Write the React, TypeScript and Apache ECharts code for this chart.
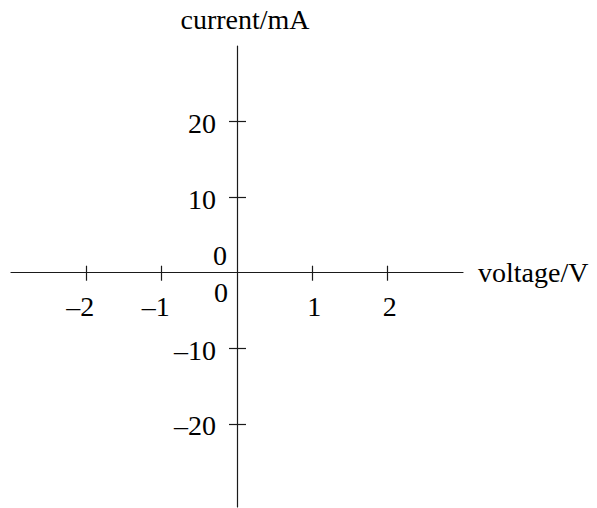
import React, { useEffect, useRef } from "react";
import * as echarts from "echarts";

const X_RANGE = [-3, 3];
const Y_RANGE = [-31, 30];
const X_TICKS = [-2, -1, 1, 2];
const X_LABELS = [-2, -1, 0, 1, 2];
const Y_TICKS = [-20, -10, 10, 20];
const Y_LABELS = [-20, -10, 0, 10, 20];
const X_NAME = "voltage/V";
const Y_NAME = "current/mA";

const FONT = "'Liberation Serif', 'Times New Roman', serif";
const FS = 28;
const LINE = { color: "#1a1a1a", width: 1.2 };

const fmt = (v: number) => (v < 0 ? "\u2013" + Math.abs(v) : String(v));

// plot frame (pixels) and origin
const L = 11, R = 463, T = 46, B = 507;
const OX = L + ((0 - X_RANGE[0]) / (X_RANGE[1] - X_RANGE[0])) * (R - L);
const OY = T + ((Y_RANGE[1] - 0) / (Y_RANGE[1] - Y_RANGE[0])) * (B - T);
const W = 597, H = 508;

const hiddenX = (gi: number) => ({ type: "value", gridIndex: gi, min: X_RANGE[0], max: X_RANGE[1], show: false });
const hiddenY = (gi: number) => ({ type: "value", gridIndex: gi, min: Y_RANGE[0], max: Y_RANGE[1], show: false });

export default function App() {
  const ref = useRef<HTMLDivElement>(null);
  useEffect(() => {
    if (!ref.current) return;
    const chart = echarts.init(ref.current, undefined, { renderer: "svg" });
    const g = (left: number, top: number, right: number, bottom: number) => ({
      left,
      top,
      width: right - left,
      height: bottom - top,
      containLabel: false,
      outerBoundsMode: "none",
    });
    chart.setOption({
      animation: false,
      backgroundColor: "#fff",
      textStyle: { fontFamily: FONT },
      grid: [
        g(L, T, R, OY), // x axis: line, downward ticks, labels
        g(L, OY, R, B), // x axis: upward ticks
        g(OX, T, W - 1, B), // y axis: line, left ticks, labels
        g(1, T, OX, B), // y axis: right ticks
      ],
      xAxis: [
        {
          type: "value",
          gridIndex: 0,
          min: X_RANGE[0],
          max: X_RANGE[1],
          position: "bottom",
          name: X_NAME,
          nameLocation: "end",
          nameGap: 15,
          nameTextStyle: { fontFamily: FONT, fontSize: FS, color: "#000", padding: [0, 0, 8, 0] },
          axisLine: { show: true, onZero: false, lineStyle: LINE },
          axisTick: { show: true, inside: false, length: 8, customValues: X_TICKS, lineStyle: LINE },
          axisLabel: {
            show: true,
            customValues: X_LABELS,
            margin: 6,
            color: "#000",
            fontFamily: FONT,
            fontSize: FS,
            formatter: (v: number) =>
              v === 0 ? "{z|0}" : v < 0 ? "{m|" + fmt(v) + "}" : "{p|" + fmt(v) + "}",
            rich: {
              z: { fontFamily: FONT, fontSize: FS, color: "#000", padding: [0, 32, 0, 0] },
              m: { fontFamily: FONT, fontSize: FS, color: "#000", padding: [14, 12, 0, 0] },
              p: { fontFamily: FONT, fontSize: FS, color: "#000", padding: [14, 0, 0, 4] },
            },
          },
          splitLine: { show: false },
        },
        {
          type: "value",
          gridIndex: 1,
          min: X_RANGE[0],
          max: X_RANGE[1],
          position: "top",
          axisLine: { show: false, onZero: false },
          axisTick: { show: true, inside: false, length: 7, customValues: X_TICKS, lineStyle: LINE },
          axisLabel: { show: false },
          splitLine: { show: false },
        },
        hiddenX(2),
        hiddenX(3),
      ],
      yAxis: [
        hiddenY(0),
        hiddenY(1),
        {
          type: "value",
          gridIndex: 2,
          min: Y_RANGE[0],
          max: Y_RANGE[1],
          position: "left",
          name: Y_NAME,
          nameLocation: "end",
          nameGap: 13,
          nameTextStyle: { fontFamily: FONT, fontSize: FS, color: "#000", padding: [0, 0, 0, 16] },
          axisLine: { show: true, onZero: false, lineStyle: LINE },
          axisTick: { show: true, inside: false, length: 8, customValues: Y_TICKS, lineStyle: LINE },
          axisLabel: {
            show: true,
            customValues: Y_LABELS,
            margin: 10,
            color: "#000",
            fontFamily: FONT,
            fontSize: FS,
            formatter: (v: number) => (v === 0 ? "{z|0}" : "{n|" + fmt(v) + "}"),
            rich: {
              z: { fontFamily: FONT, fontSize: FS, color: "#000", padding: [0, 0, 34, 0] },
              n: { fontFamily: FONT, fontSize: FS, color: "#000", padding: [4, 11, 0, 0] },
            },
          },
          splitLine: { show: false },
        },
        {
          type: "value",
          gridIndex: 3,
          min: Y_RANGE[0],
          max: Y_RANGE[1],
          position: "right",
          axisLine: { show: false, onZero: false },
          axisTick: { show: true, inside: false, length: 9, customValues: Y_TICKS, lineStyle: LINE },
          axisLabel: { show: false },
          splitLine: { show: false },
        },
      ],
      series: [
        { type: "line", xAxisIndex: 0, yAxisIndex: 0, data: [], silent: true },
        { type: "line", xAxisIndex: 1, yAxisIndex: 1, data: [], silent: true },
        { type: "line", xAxisIndex: 2, yAxisIndex: 2, data: [], silent: true },
        { type: "line", xAxisIndex: 3, yAxisIndex: 3, data: [], silent: true },
      ],
    });
    return () => chart.dispose();
  }, []);
  return (
    <div
      ref={ref}
      style={{ position: "absolute", left: 0, top: 0, width: W, height: H, background: "#fff" }}
    />
  );
}
